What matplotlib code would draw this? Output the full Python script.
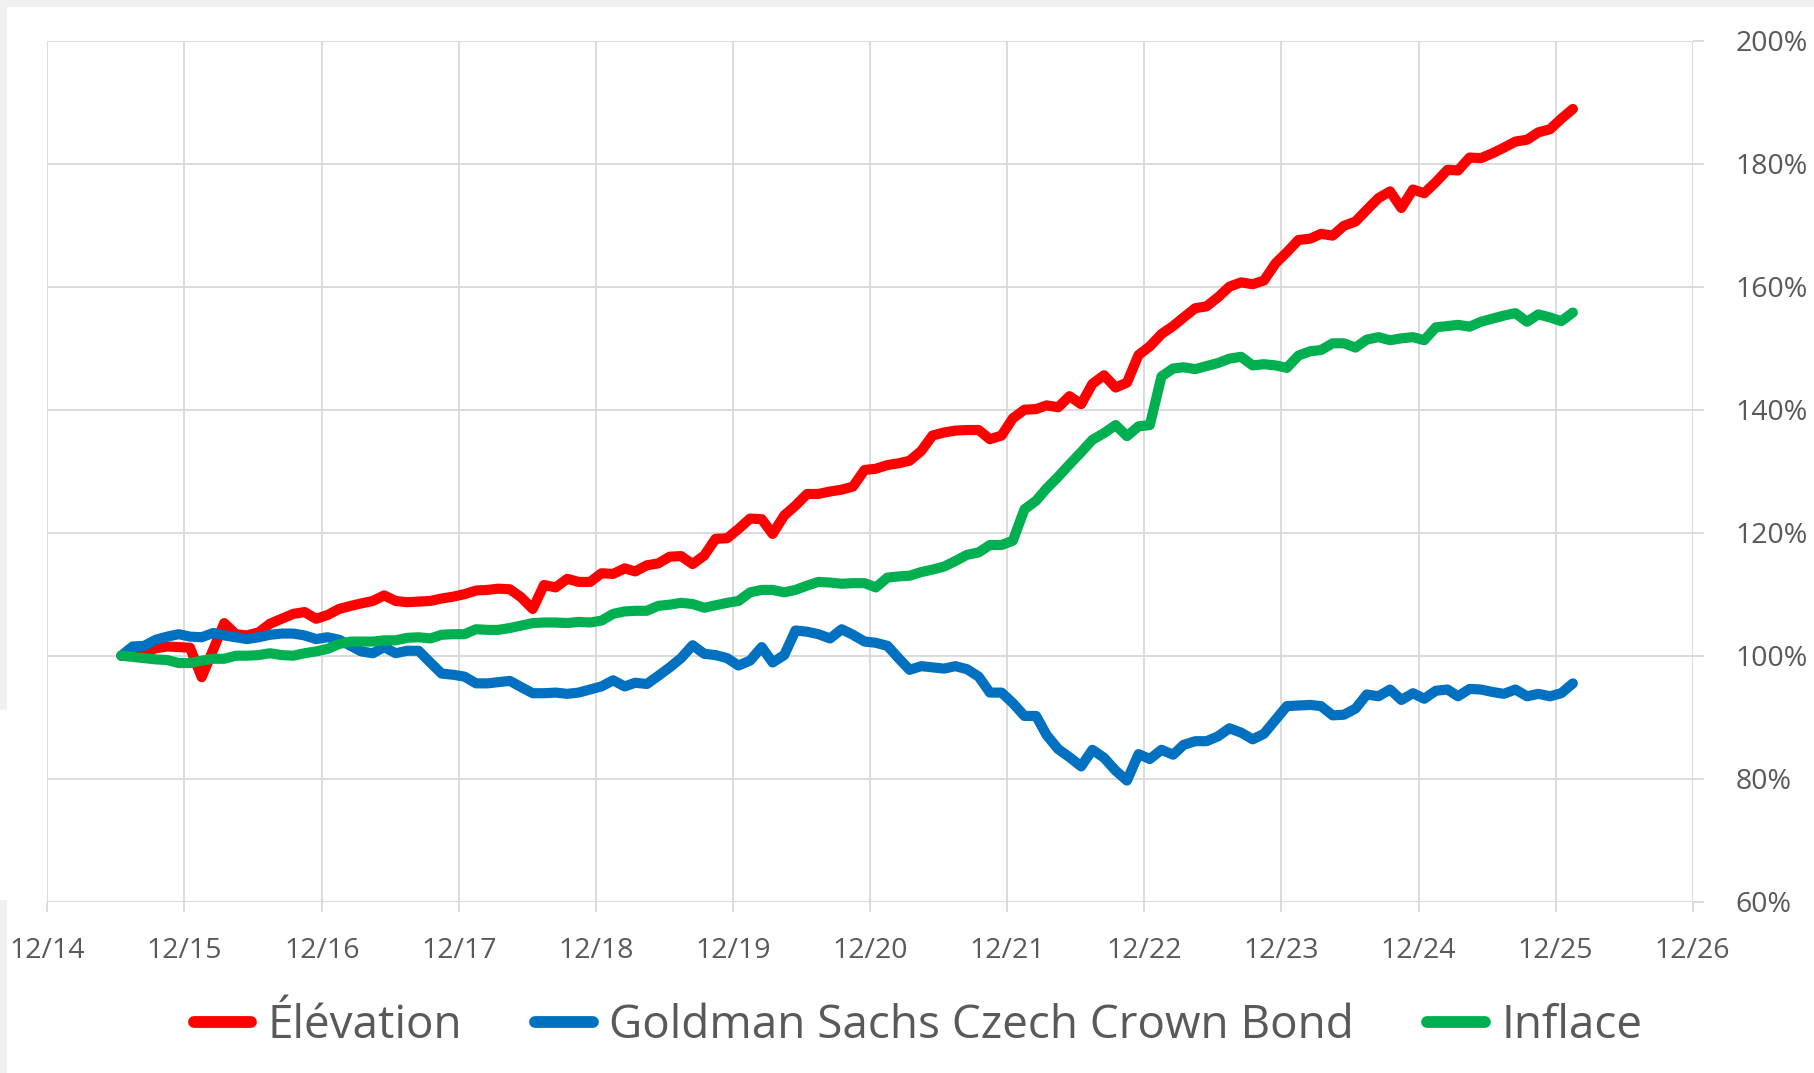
import matplotlib
matplotlib.use("Agg")
import matplotlib.pyplot as plt
import matplotlib.dates as mdates
from matplotlib.lines import Line2D
from matplotlib.patches import Rectangle
from matplotlib.ticker import FuncFormatter
import pandas as pd

# ---------------- data ----------------
dates = pd.date_range("2015-06-01", periods=128, freq="MS") + pd.Timedelta(days=15)

elevation = [
    100.0, 100.3, 100.6, 101.2, 101.5, 101.4, 101.3, 96.5, 101.0, 105.3,
    103.5, 103.3, 103.8, 105.2, 106.0, 106.8, 107.1, 106.0, 106.6, 107.6,
    108.1, 108.5, 108.9, 109.8, 108.9, 108.7, 108.8, 108.9, 109.3, 109.6,
    110.0, 110.6, 110.7, 110.9, 110.8, 109.5, 107.6, 111.5, 111.1, 112.5,
    112.0, 112.0, 113.4, 113.3, 114.2, 113.7, 114.7, 115.0, 116.1, 116.2,
    114.9, 116.3, 119.0, 119.1, 120.6, 122.3, 122.2, 119.8, 122.8, 124.4,
    126.3, 126.3, 126.7, 127.0, 127.5, 130.2, 130.4, 131.0, 131.3, 131.7,
    133.3, 135.8, 136.3, 136.6, 136.7, 136.7, 135.2, 135.8, 138.6, 140.0,
    140.1, 140.7, 140.4, 142.2, 140.9, 144.2, 145.6, 143.6, 144.4, 148.9,
    150.3, 152.3, 153.6, 155.0, 156.5, 156.8, 158.3, 160.0, 160.7, 160.4,
    161.0, 163.8, 165.6, 167.6, 167.8, 168.6, 168.3, 169.9, 170.6, 172.5,
    174.4, 175.5, 172.8, 175.8, 175.2, 177.0, 179.0, 178.9, 181.0, 180.9,
    181.7, 182.6, 183.6, 183.9, 185.1, 185.6, 187.3, 188.9,
]

goldman = [
    100.0, 101.5, 101.6, 102.6, 103.1, 103.5, 103.1, 103.0, 103.7, 103.3,
    103.0, 102.7, 103.0, 103.4, 103.6, 103.6, 103.3, 102.7, 103.0, 102.6,
    101.6, 100.7, 100.4, 101.4, 100.4, 100.8, 100.8, 98.9, 97.1, 96.9,
    96.6, 95.5, 95.5, 95.7, 95.9, 94.9, 93.9, 93.9, 94.0, 93.8,
    94.0, 94.5, 95.0, 96.0, 95.0, 95.6, 95.4, 96.7, 98.1, 99.6,
    101.7, 100.3, 100.1, 99.6, 98.4, 99.2, 101.4, 98.9, 100.1, 104.1,
    103.9, 103.5, 102.8, 104.3, 103.4, 102.3, 102.1, 101.6, 99.5, 97.7,
    98.3, 98.1, 97.9, 98.3, 97.8, 96.6, 94.0, 94.0, 92.3, 90.2,
    90.2, 87.1, 84.8, 83.5, 82.0, 84.7, 83.4, 81.3, 79.7, 84.0,
    83.2, 84.7, 83.9, 85.5, 86.1, 86.1, 86.9, 88.2, 87.5, 86.4,
    87.3, 89.6, 91.8, 91.9, 92.0, 91.8, 90.3, 90.4, 91.4, 93.7,
    93.4, 94.5, 92.8, 93.9, 93.0, 94.3, 94.5, 93.4, 94.6, 94.5,
    94.1, 93.8, 94.5, 93.4, 93.8, 93.4, 93.9, 95.5,
]

inflace = [
    100.0, 99.8, 99.6, 99.4, 99.3, 98.8, 98.8, 99.2, 99.5, 99.5,
    100.0, 100.0, 100.1, 100.4, 100.1, 100.0, 100.4, 100.7, 101.1, 101.9,
    102.3, 102.3, 102.3, 102.5, 102.5, 102.9, 103.0, 102.8, 103.4, 103.5,
    103.5, 104.3, 104.2, 104.2, 104.5, 104.9, 105.3, 105.4, 105.4, 105.3,
    105.5, 105.4, 105.7, 106.8, 107.2, 107.3, 107.3, 108.1, 108.3, 108.6,
    108.4, 107.8, 108.2, 108.6, 108.9, 110.3, 110.7, 110.7, 110.3, 110.7,
    111.4, 112.0, 111.9, 111.7, 111.8, 111.8, 111.1, 112.7, 112.9, 113.0,
    113.6, 114.0, 114.5, 115.4, 116.4, 116.8, 118.0, 118.0, 118.7, 123.8,
    125.2, 127.2, 129.1, 131.1, 133.1, 135.1, 136.2, 137.5, 135.7, 137.3,
    137.5, 145.4, 146.7, 146.9, 146.6, 147.1, 147.6, 148.3, 148.6, 147.2,
    147.4, 147.2, 146.8, 148.8, 149.5, 149.7, 150.8, 150.8, 150.1, 151.4,
    151.8, 151.3, 151.6, 151.8, 151.3, 153.4, 153.6, 153.8, 153.5, 154.3,
    154.8, 155.3, 155.7, 154.3, 155.5, 155.0, 154.4, 155.8,
]

series_names = ["Élévation", "Goldman Sachs Czech Crown Bond", "Inflace"]
series_colors = ["#FF0000", "#0070C0", "#00B050"]
x_ticks = pd.date_range("2014-12-01", "2026-12-01", freq="12MS")
y_ticks = [60, 80, 100, 120, 140, 160, 180, 200]

# ---------------- styling ----------------
plt.rcParams["font.family"] = ["Open Sans", "DejaVu Sans"]
text_color = "#595959"
grid_color = "#D9D9D9"

W, H = 1814, 1073
fig = plt.figure(figsize=(W / 100, H / 100), dpi=100)
fig.patch.set_facecolor("white")

# light gray screenshot frame fragments
frame_col = "#F0F0EE"
fig.add_artist(Rectangle((0, 1 - 7 / H), 1, 7 / H, transform=fig.transFigure,
                         color=frame_col, lw=0, zorder=-10))
fig.add_artist(Rectangle((0, 1 - 710 / H), 7 / W, 710 / H, transform=fig.transFigure,
                         color=frame_col, lw=0, zorder=-10))
fig.add_artist(Rectangle((0, 0), 7 / W, (H - 900) / H, transform=fig.transFigure,
                         color=frame_col, lw=0, zorder=-10))

left, right, top, bottom = 47.4, 1692.6, 40.7, 901.7
ax = fig.add_axes([left / W, 1 - bottom / H, (right - left) / W, (bottom - top) / H])
ax.set_facecolor("none")

for vals, name, col in zip([elevation, goldman, inflace], series_names, series_colors):
    ax.plot(dates, vals, color=col, lw=7.3, solid_capstyle="round",
            solid_joinstyle="round", label=name, zorder=3)

ax.set_xlim(x_ticks[0], x_ticks[-1])
ax.set_ylim(60, 200)
ax.set_xticks(x_ticks)
ax.xaxis.set_major_formatter(mdates.DateFormatter("%m/%y"))
ax.set_yticks(y_ticks)
ax.yaxis.set_major_formatter(FuncFormatter(lambda v, p: f"{v:.0f}%"))
ax.yaxis.tick_right()

ax.grid(True, color=grid_color, lw=1.3, zorder=0)
ax.set_axisbelow(True)
for s in ax.spines.values():
    s.set_visible(False)

ax.tick_params(axis="x", length=7.2, width=1.3, color=grid_color, pad=18.5,
               labelsize=20.5, labelcolor=text_color)
ax.tick_params(axis="y", length=8, width=1.3, color=grid_color, pad=23,
               labelsize=20.5, labelcolor=text_color, right=True, left=False)
for lbl in ax.get_yticklabels():
    lbl.set_horizontalalignment("left")

handles = [Line2D([0], [0], color=c, lw=8.5, solid_capstyle="round") for c in series_colors]
leg = fig.legend(handles, series_names, loc="center", bbox_to_anchor=(0.506, 0.044),
                 ncol=3, frameon=False, fontsize=33, handlelength=1.25,
                 handletextpad=0.36, columnspacing=1.6)
for t in leg.get_texts():
    t.set_color(text_color)

fig.savefig("out.png", dpi=100, facecolor=fig.get_facecolor())
